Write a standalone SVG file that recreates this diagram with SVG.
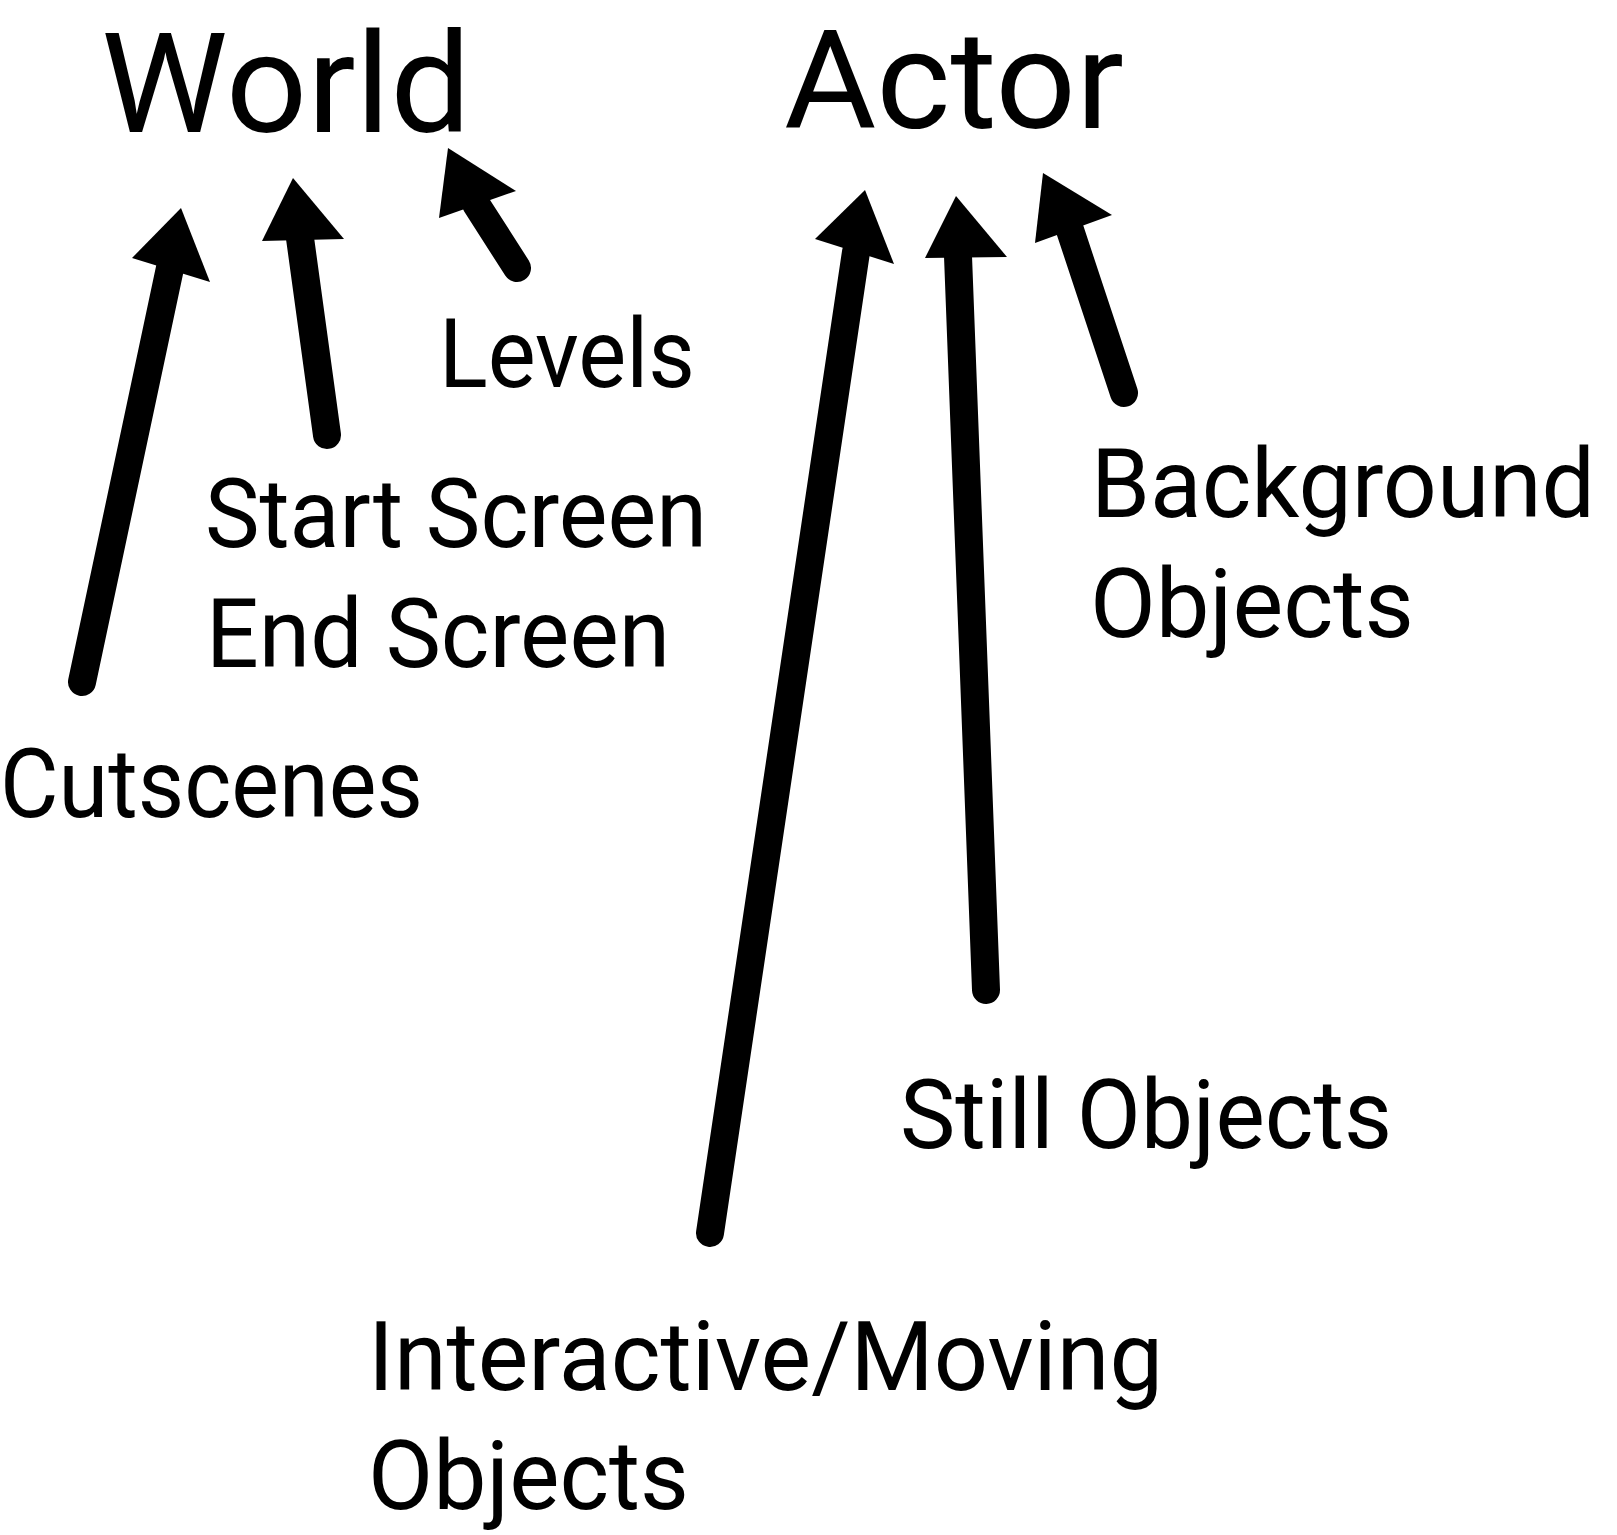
<svg xmlns="http://www.w3.org/2000/svg" width="1617" height="1535" viewBox="0 0 1617 1535">
<style>
.big{font-family:Roboto,"Liberation Sans",sans-serif;fill:#000}
.lbl{font-family:Roboto,"Liberation Sans",sans-serif;font-size:96px;fill:#000}
.shaft{stroke:#000;stroke-width:28;stroke-linecap:round;fill:none}
.head{fill:#000;stroke:none}
</style>
<rect width="1617" height="1535" fill="#fff"/>
<g id="world"><text class="big" x="101" y="132" font-size="139" textLength="370" lengthAdjust="spacingAndGlyphs">World</text></g>
<g id="actor"><text class="big" x="784" y="128" font-size="137" textLength="340" lengthAdjust="spacingAndGlyphs">Actor</text></g>
<g id="levels"><text class="lbl" x="439" y="387" textLength="256" lengthAdjust="spacingAndGlyphs">Levels</text></g>
<g id="screens">
<text class="lbl" x="205" y="547" textLength="502" lengthAdjust="spacingAndGlyphs">Start Screen</text>
<text class="lbl" x="206" y="667" textLength="464" lengthAdjust="spacingAndGlyphs">End Screen</text>
</g>
<g id="cutscenes"><text class="lbl" x="0" y="817" textLength="423" lengthAdjust="spacingAndGlyphs">Cutscenes</text></g>
<g id="background">
<text class="lbl" x="1091" y="517" textLength="504" lengthAdjust="spacingAndGlyphs">Background</text>
<text class="lbl" x="1090" y="637" textLength="324" lengthAdjust="spacingAndGlyphs">Objects</text>
</g>
<g id="still"><text class="lbl" x="900" y="1148" textLength="492" lengthAdjust="spacingAndGlyphs">Still Objects</text></g>
<g id="interactive">
<text class="lbl" x="368" y="1390" textLength="795" lengthAdjust="spacingAndGlyphs">Interactive/Moving</text>
<text class="lbl" x="368" y="1509" textLength="321" lengthAdjust="spacingAndGlyphs">Objects</text>
</g>
<g id="connectors">
<line class="shaft" x1="82" y1="682" x2="170" y2="268"/>
<polygon class="head" points="181,208 132,258 210,282"/>
<line class="shaft" x1="327" y1="435" x2="300" y2="238"/>
<polygon class="head" points="293,178 262,241 344,239"/>
<line class="shaft" x1="517" y1="268" x2="476" y2="204"/>
<polygon class="head" points="448,148 439,218 516,191"/>
<line class="shaft" x1="710" y1="1233" x2="856" y2="252"/>
<polygon class="head" points="865,190 815,239 894,264"/>
<line class="shaft" x1="986" y1="990" x2="958" y2="256"/>
<polygon class="head" points="956,196 925,258 1007,257"/>
<line class="shaft" x1="1124" y1="393" x2="1070" y2="230"/>
<polygon class="head" points="1043,173 1035,243 1112,215"/>
</g>
</svg>
